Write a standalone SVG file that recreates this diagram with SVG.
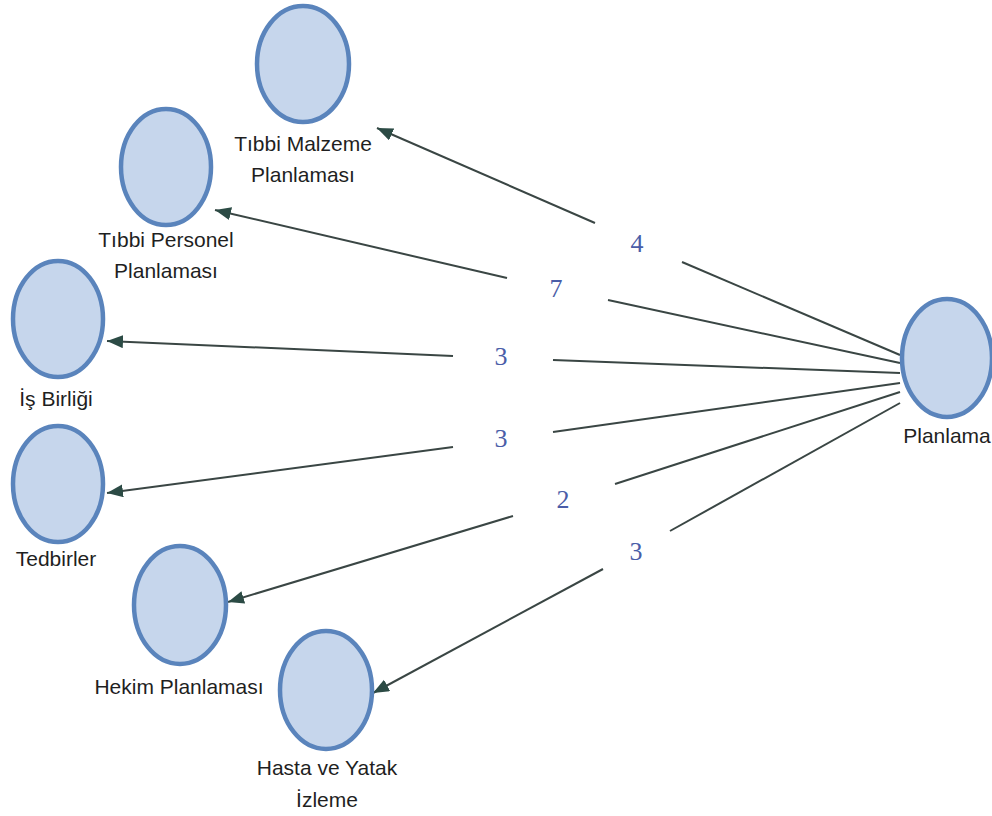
<svg xmlns="http://www.w3.org/2000/svg" width="992" height="816" viewBox="0 0 992 816">
<defs>
<style>
.node ellipse{fill:#c6d6ec;stroke:#5a84bc;stroke-width:4.5}
.node .inner{fill:none;stroke:#9fbde3;stroke-width:1.2}
.lbl{font-family:"Liberation Sans",Arial,sans-serif;font-size:21px;fill:#1f1f1f;text-anchor:middle}
.num{font-family:"Liberation Serif","Times New Roman",serif;font-size:26px;fill:#4a5da8;text-anchor:middle}
.edge{stroke:#3a4644;stroke-width:2;fill:none}
</style>
<marker id="arr" markerUnits="userSpaceOnUse" markerWidth="18" markerHeight="14" refX="16" refY="6.5" orient="auto">
<path d="M0,0 L16,6.5 L0,13 z" fill="#2c4b45"/>
</marker>
</defs>
<rect width="992" height="816" fill="#ffffff"/>
<g id="connectors">
<path class="edge" d="M900,355 L682,262"/>
<path class="edge" d="M595,223 L377,128" marker-end="url(#arr)"/>
<path class="edge" d="M900,363 L608,300"/>
<path class="edge" d="M507,278 L215,210" marker-end="url(#arr)"/>
<path class="edge" d="M900,373 L553,360"/>
<path class="edge" d="M453,356 L107,341" marker-end="url(#arr)"/>
<path class="edge" d="M900,383 L553,432"/>
<path class="edge" d="M453,447 L107,493" marker-end="url(#arr)"/>
<path class="edge" d="M900,392 L615,484"/>
<path class="edge" d="M513,516 L228,602" marker-end="url(#arr)"/>
<path class="edge" d="M900,403 L670,531"/>
<path class="edge" d="M603,569 L373,693" marker-end="url(#arr)"/>
<text class="num" x="637" y="252">4</text>
<text class="num" x="556" y="297">7</text>
<text class="num" x="501" y="365">3</text>
<text class="num" x="501" y="447">3</text>
<text class="num" x="563" y="508">2</text>
<text class="num" x="636" y="560">3</text>
</g>
<g id="node-tibbi-malzeme" class="node">
<ellipse cx="303" cy="64" rx="46" ry="58"/>
<text class="lbl" x="303" y="151">Tıbbi Malzeme</text>
<text class="lbl" x="303" y="182">Planlaması</text>
</g>
<g id="node-tibbi-personel" class="node">
<ellipse cx="166" cy="167" rx="45" ry="58"/>
<text class="lbl" x="166" y="247">Tıbbi Personel</text>
<text class="lbl" x="166" y="278">Planlaması</text>
</g>
<g id="node-is-birligi" class="node">
<ellipse cx="58" cy="319" rx="45" ry="58"/>
<text class="lbl" x="56" y="406">İş Birliği</text>
</g>
<g id="node-tedbirler" class="node">
<ellipse cx="58" cy="484" rx="45" ry="58"/>
<text class="lbl" x="56" y="566">Tedbirler</text>
</g>
<g id="node-hekim" class="node">
<ellipse cx="180" cy="605" rx="46" ry="59"/>
<text class="lbl" x="179" y="694">Hekim Planlaması</text>
</g>
<g id="node-hasta" class="node">
<ellipse cx="326" cy="690" rx="46" ry="59"/>
<text class="lbl" x="327" y="775">Hasta ve Yatak</text>
<text class="lbl" x="327" y="807">İzleme</text>
</g>
<g id="node-planlama" class="node">
<ellipse cx="947" cy="358" rx="45" ry="59"/>
<text class="lbl" x="947" y="443">Planlama</text>
</g>
</svg>
